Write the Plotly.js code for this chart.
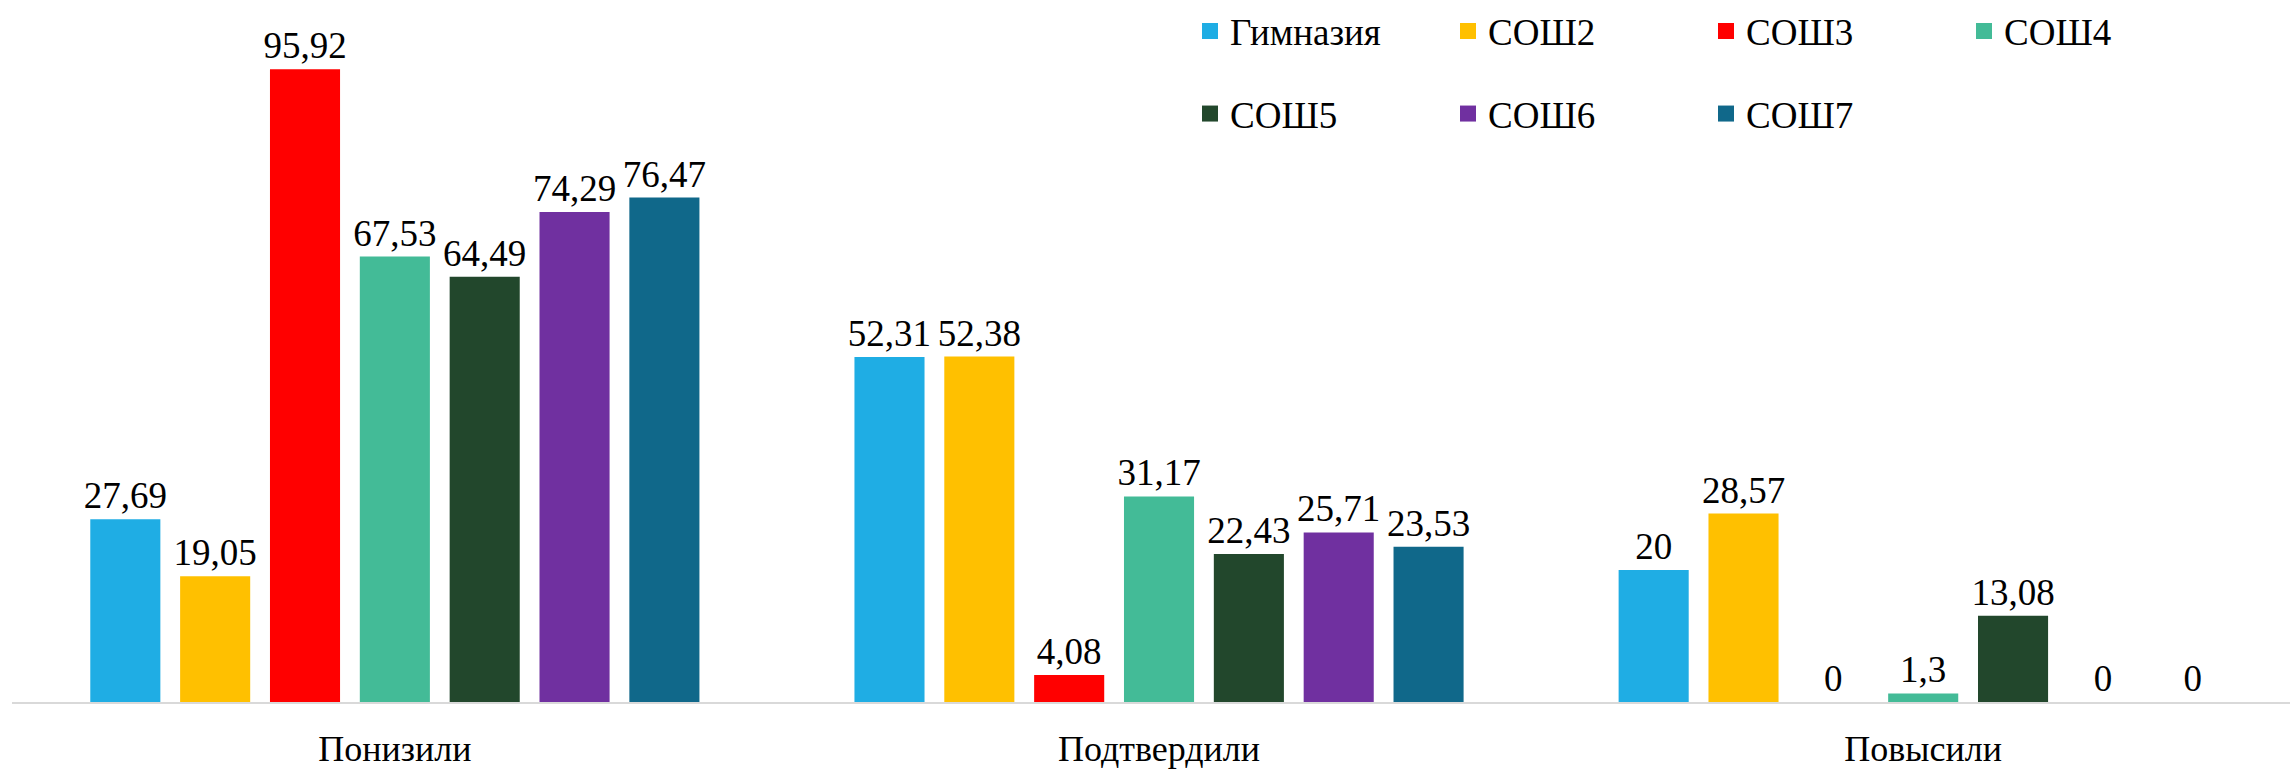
<!DOCTYPE html>
<html>
<head>
<meta charset="utf-8">
<script src="https://cdn.plot.ly/plotly-3.0.1.min.js"></script>
<style>html,body{margin:0;padding:0;background:#fff;}#chart{width:2290px;height:769px;}</style>
</head>
<body>
<div id="chart"></div>
<script>
const categories = ["Понизили", "Подтвердили", "Повысили"];
const seriesNames = ["Гимназия", "СОШ2", "СОШ3", "СОШ4", "СОШ5", "СОШ6", "СОШ7"];
const gimnaziya = [27.69, 52.31, 20];
const sosh2 = [19.05, 52.38, 28.57];
const sosh3 = [95.92, 4.08, 0];
const sosh4 = [67.53, 31.17, 1.3];
const sosh5 = [64.49, 22.43, 13.08];
const sosh6 = [74.29, 25.71, 0];
const sosh7 = [76.47, 23.53, 0];
const seriesValues = [gimnaziya, sosh2, sosh3, sosh4, sosh5, sosh6, sosh7];
const colors = ["#1FADE4", "#FFC000", "#FF0000", "#43BB97", "#22472C", "#7030A0", "#10688A"];

const FONT = "Liberation Serif, Times New Roman, serif";
const fmt = v => String(v).replace(".", ",");

const barTraces = seriesNames.map((name, i) => ({
  type: "bar",
  name: name,
  x: categories,
  y: seriesValues[i],
  marker: {color: colors[i]},
  text: seriesValues[i].map(fmt),
  textposition: "outside",
  constraintext: "none",
  textfont: {family: FONT, size: 37, color: "#000"},
  cliponaxis: false,
  hoverinfo: "x+y+name",
  showlegend: false,
  legendgroup: name
}));

// legend-only entries (square swatches)
const legendTraces = seriesNames.map((name, i) => ({
  type: "scatter",
  mode: "markers",
  name: name,
  x: [null],
  y: [null],
  marker: {color: colors[i], symbol: "square", size: 19},
  showlegend: true,
  legendgroup: name,
  legend: i < 4 ? "legend" : "legend2",
  hoverinfo: "skip"
}));

const legendCommon = {
  orientation: "h",
  xref: "container", yref: "container",
  xanchor: "left", yanchor: "middle",
  font: {family: FONT, size: 37, color: "#000"},
  entrywidth: 213, entrywidthmode: "pixels",
  bgcolor: "rgba(0,0,0,0)", borderwidth: 0,
  traceorder: "normal",
  itemsizing: "trace"
};

const layout = {
  width: 2290, height: 769,
  paper_bgcolor: "#fff", plot_bgcolor: "#fff",
  margin: {l: 12, r: 0, t: 20, b: 67, autoexpand: false},
  barmode: "group",
  bargap: 0.177,
  bargroupgap: 0.22,
  showlegend: true,
  legend: Object.assign({}, legendCommon, {x: 1190/2290, y: 1 - 31.5/769}),
  legend2: Object.assign({}, legendCommon, {x: 1190/2290, y: 1 - 114/769}),
  xaxis: {
    type: "category",
    range: [-0.501, 2.48],
    showline: true, linecolor: "#D9D9D9", linewidth: 2,
    ticks: "", showgrid: false, zeroline: false,
    tickfont: {family: FONT, size: 36, color: "#000"},
    ticklabelstandoff: 14,
    automargin: false
  },
  yaxis: {
    range: [0, 103.4],
    visible: false, showgrid: false, zeroline: false,
    automargin: false
  },
  font: {family: FONT}
};

Plotly.newPlot("chart", barTraces.concat(legendTraces), layout, {displayModeBar: false, staticPlot: true});
</script>
</body>
</html>
